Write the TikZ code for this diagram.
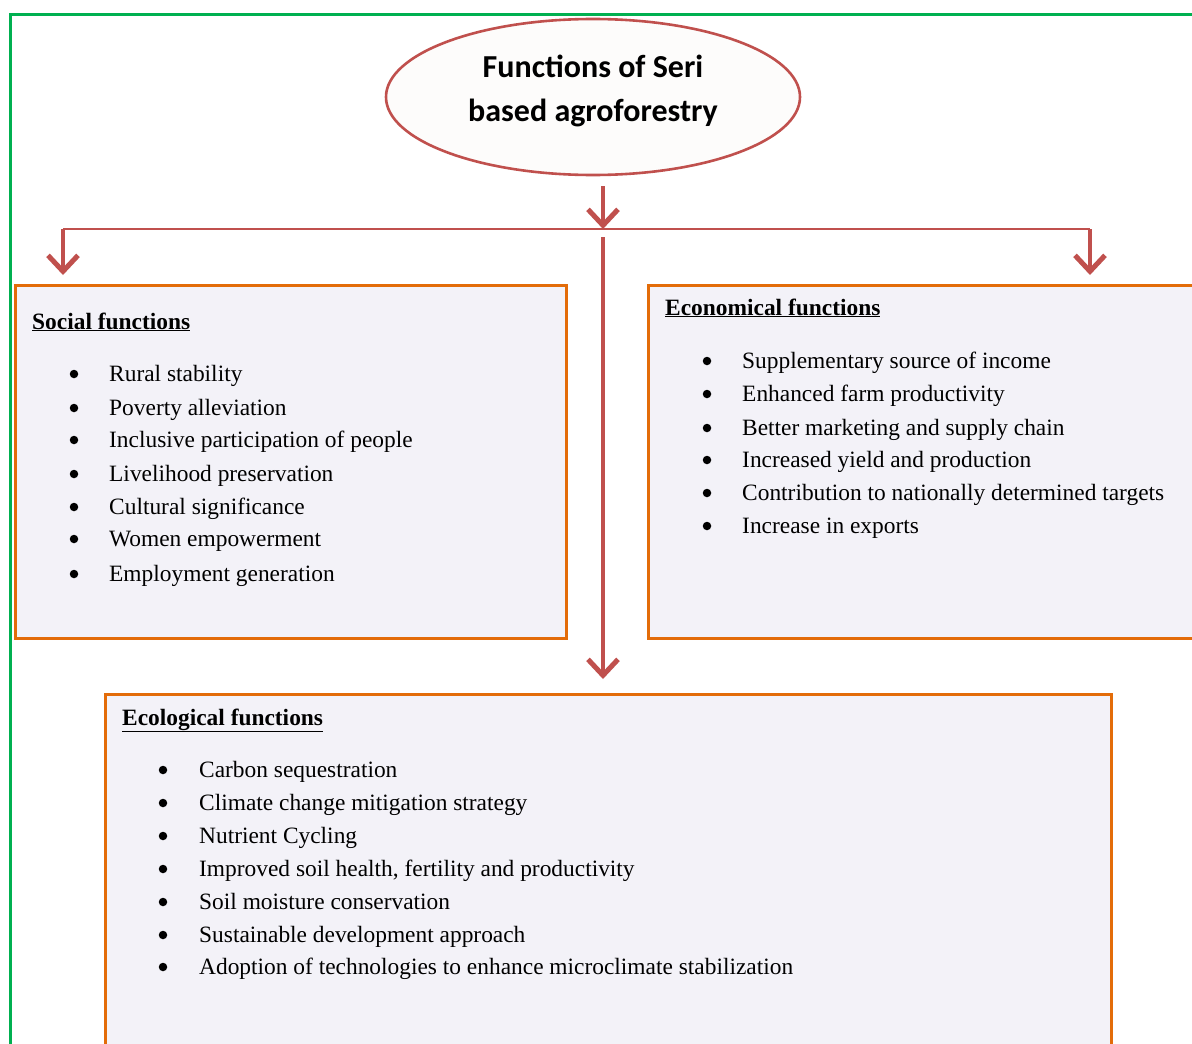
\documentclass[tikz,border=0pt]{standalone}
\usepackage{fontspec}
\setmainfont{Liberation Serif}
\newfontfamily\titlefont{Carlito}
\usetikzlibrary{shapes.geometric,arrows.meta,calc}
\definecolor{arrred}{HTML}{C0504D}
\definecolor{boxorange}{HTML}{E36C09}
\definecolor{boxfill}{HTML}{F3F2F8}
\definecolor{ellfill}{HTML}{FDFCFB}
\definecolor{framegreen}{HTML}{00B050}
\tikzset{
  fbox/.style={draw=boxorange, line width=3.2pt, fill=boxfill, anchor=north west, inner sep=0pt},
  arr/.style={draw=arrred, line width=4.5pt, -{Straight Barb[length=16pt,width=30pt,line width=5pt]}},
  hline/.style={draw=arrred, line width=1.6pt},
  itemtext/.style={anchor=base west, inner sep=0pt, font=\fontsize{23.4}{28}\selectfont},
  headtext/.style={anchor=base west, inner sep=0pt, font=\fontsize{23.4}{28}\selectfont\bfseries},
  dot/.style={circle, fill=black, inner sep=0pt, minimum size=8.5pt},
}
\begin{document}
\begin{tikzpicture}[x=1pt,y=-1pt]
\clip (0,0) rectangle (1192,1044);
\fill[white] (0,0) rectangle (1192,1044);
% green frame
\draw[framegreen, line width=3pt] (10,1060) -- (10,14) -- (1210,14);

% title ellipse
\node[ellipse, draw=arrred, line width=2.6pt, fill=ellfill, minimum width=414pt, minimum height=156pt, inner sep=0pt] (title) at (593,97) {};
\node[align=center, inner sep=0pt, font=\titlefont\bfseries\fontsize{32}{44}\selectfont] (titletext) at (593,91) {Functions of Seri\\based agroforestry};

% boxes
\node[fbox, minimum width=551pt, minimum height=353pt] (social) at (14,284) {};
\node[fbox, minimum width=580pt, minimum height=353pt] (econ) at (647,284) {};
\node[fbox, minimum width=1006pt, minimum height=420pt] (ecol) at (104,693) {};

% connectors
\coordinate (jl) at (63,229);
\coordinate (jc) at (603,229);
\coordinate (jr) at (1090,229);
\draw[hline] (jl) -- (jr);
\draw[arr] ([yshift=-10pt]title.south -| jc) -- (jc);
\draw[arr] (jl) -- ([yshift=9pt]social.north -| jl);
\draw[arr] (jr) -- ([yshift=9pt]econ.north -| jr);
\draw[arr] ([yshift=-8pt]jc) -- ([yshift=14pt]ecol.north -| jc);

% social
\node[headtext] (sh) at (32,329) {\underline{Social functions}};
\foreach \y/\t [count=\i] in {381.5/Rural stability, 415.5/Poverty alleviation, 447.5/Inclusive participation of people, 481.5/Livelihood preservation, 514.5/Cultural significance, 546.5/Women empowerment, 581.5/Employment generation}{
  \node[dot] (sb\i) at (74,\y-7.5) {};
  \node[itemtext] (st\i) at (109,\y) {\t};
}

% economical
\node[headtext] (eh) at (665,315) {\underline{Economical functions}};
\foreach \y/\t [count=\i] in {368.5/Supplementary source of income, 401.5/Enhanced farm productivity, 435.5/Better marketing and supply chain, 467.5/Increased yield and production, 500.5/Contribution to nationally determined targets, 533.5/Increase in exports}{
  \node[dot] (eb\i) at (707,\y-7.5) {};
  \node[itemtext] (et\i) at (742,\y) {\t};
}

% ecological
\node[headtext] (gh) at (122,725) {\underline{Ecological functions}};
\foreach \y/\t [count=\i] in {777.5/Carbon sequestration, 810.5/Climate change mitigation strategy, 843.5/Nutrient Cycling, {876.5}/{Improved soil health, fertility and productivity}, 909.5/Soil moisture conservation, 942.5/Sustainable development approach, 974.5/Adoption of technologies to enhance microclimate stabilization}{
  \node[dot] (gb\i) at (163,\y-7.5) {};
  \node[itemtext] (gt\i) at (199,\y) {\t};
}
\end{tikzpicture}
\end{document}
